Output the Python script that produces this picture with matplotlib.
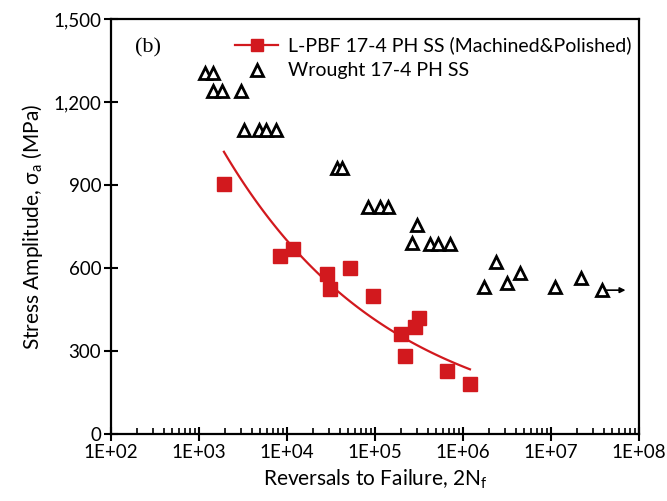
import numpy as np
import matplotlib.pyplot as plt
from matplotlib.ticker import FixedLocator, NullFormatter, FuncFormatter

# L-PBF 17-4 PH SS (machined & polished)
lpbf_n = [1.92e3, 8.3e3, 1.17e4, 2.85e4, 3.08e4, 5.2e4, 9.5e4,
          1.97e5, 2.19e5, 2.85e5, 3.16e5, 6.6e5, 1.2e6]
lpbf_s = [905, 643, 669, 578, 524, 600, 499, 361, 283, 387, 419, 226, 179]

# Wrought 17-4 PH SS
wr_n = [1.17e3, 1.45e3, 1.44e3, 1.82e3, 3.0e3, 3.24e3, 4.8e3, 5.8e3, 7.5e3,
        3.7e4, 4.2e4, 8.3e4, 1.14e5, 1.4e5, 3.0e5, 2.63e5, 4.2e5, 5.2e5,
        7.1e5, 2.37e6, 1.73e6, 3.16e6, 4.44e6, 1.11e7, 2.19e7, 3.8e7]
wr_s = [1306, 1306, 1240, 1240, 1240, 1100, 1100, 1100, 1100,
        960, 960, 820, 820, 820, 755, 690, 687, 687,
        687, 622, 531, 546, 582, 531, 564, 520]

x_decades = [2, 3, 4, 5, 6, 7, 8]
y_ticks = [0, 300, 600, 900, 1200, 1500]

plt.rcParams['font.family'] = ['Lato', 'DejaVu Sans']

fig = plt.figure(figsize=(6.67, 5.01), dpi=100)
ax = fig.add_axes([0.1664, 0.1337, 0.7916, 0.8283])

red = '#d2191e'

# power-law trend line fitted to the L-PBF data
b, a = np.polyfit(np.log10(lpbf_n), np.log10(lpbf_s), 1)
xf = np.logspace(np.log10(min(lpbf_n)), np.log10(max(lpbf_n)), 100)
ax.plot(xf, 10**a * xf**b, color=red, lw=1.6, zorder=2)

ax.plot(lpbf_n, lpbf_s, 's', color=red, ms=9.5, zorder=3)
ax.plot(wr_n, wr_s, '^', mfc='white', mec='black', mew=2.0, ms=9, zorder=3)

# run-out arrow on the last wrought point
ax.annotate('', xy=(wr_n[-1] * 1.85, wr_s[-1]), xytext=(wr_n[-1] * 1.12, wr_s[-1]),
            arrowprops=dict(arrowstyle='-|>', color='black', lw=1.2,
                            mutation_scale=8, shrinkA=0, shrinkB=0))

# legend proxies
h1, = ax.plot([], [], '-s', color=red, ms=8, lw=1.6)
h2, = ax.plot([], [], '^', mfc='white', mec='black', mew=2.0, ms=9)
ax.legend([h1, h2], ['L-PBF 17-4 PH SS (Machined&Polished)', 'Wrought 17-4 PH SS'],
          loc='upper right', bbox_to_anchor=(1.015, 0.995), frameon=False,
          fontsize=14, handlelength=2.2, handletextpad=0.5, labelspacing=0.4,
          borderpad=0.3)

ax.text(0.045, 0.93, '(b)', transform=ax.transAxes, fontsize=16,
        family='Liberation Serif', va='center', ha='left')

ax.set_xscale('log')
ax.set_xlim(1e2, 1e8)
ax.set_ylim(0, 1500)
ax.yaxis.set_major_locator(FixedLocator(y_ticks))
ax.yaxis.set_major_formatter(FuncFormatter(lambda v, p: f'{int(v):,}'))

majors = [10.0**d for d in x_decades]
minors = [m * 10.0**d for d in x_decades[:-1] for m in range(2, 10)]
ax.xaxis.set_major_locator(FixedLocator(majors))
ax.xaxis.set_minor_locator(FixedLocator(minors))
ax.xaxis.set_minor_formatter(NullFormatter())
ax.xaxis.set_major_formatter(FuncFormatter(lambda v, p: f'1E+{int(round(np.log10(v))):02d}'))

ax.tick_params(axis='both', which='major', direction='inout', length=10, width=1.5,
               labelsize=13.5, colors='black', pad=2)
ax.tick_params(axis='x', which='minor', direction='in', length=4, width=1.2)
for s in ax.spines.values():
    s.set_linewidth(1.6)

ax.set_xlabel('Reversals to Failure, 2N$_\\mathregular{f}$', fontsize=15, labelpad=5)
ax.set_ylabel('Stress Amplitude, σ$_\\mathregular{a}$ (MPa)', fontsize=15, labelpad=6)

fig.savefig('out.png', dpi=100)
